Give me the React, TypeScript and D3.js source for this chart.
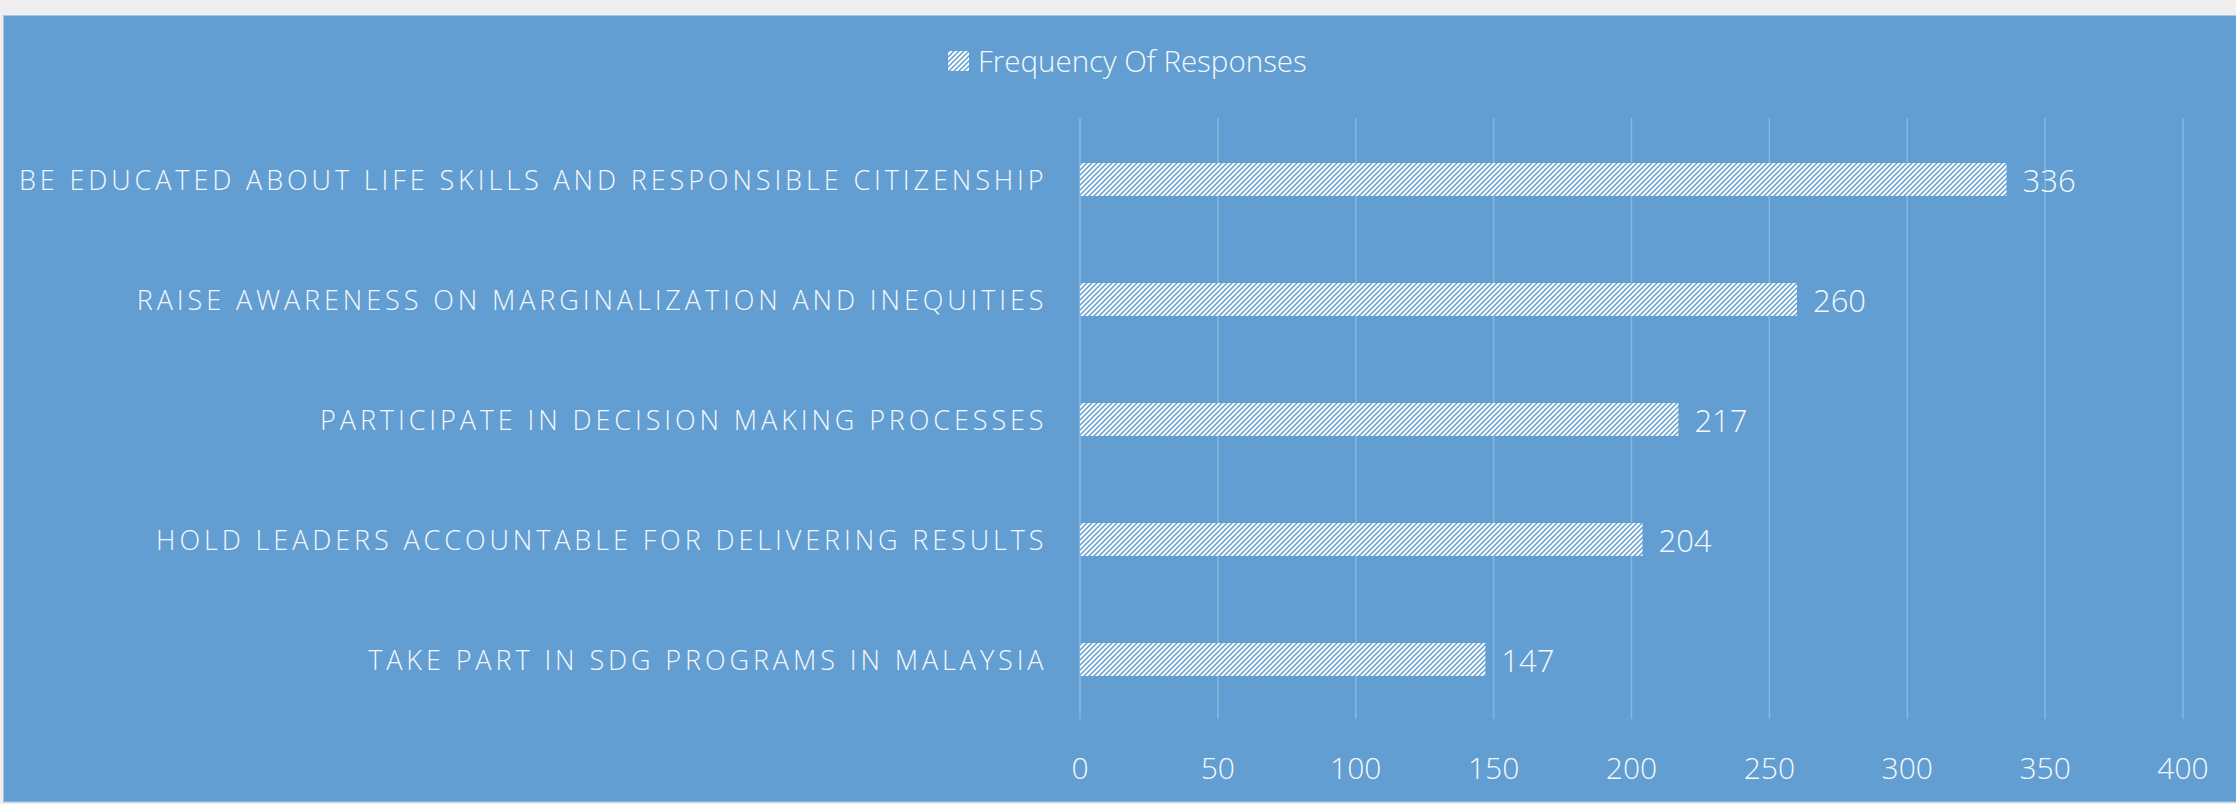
import React from "react";
import * as d3 from "d3";

const categories = [
  "BE EDUCATED ABOUT LIFE SKILLS AND RESPONSIBLE CITIZENSHIP",
  "RAISE AWARENESS ON MARGINALIZATION AND INEQUITIES",
  "PARTICIPATE IN DECISION MAKING PROCESSES",
  "HOLD LEADERS ACCOUNTABLE FOR DELIVERING RESULTS",
  "TAKE PART IN SDG PROGRAMS IN MALAYSIA",
];
const values = [336, 260, 217, 204, 147];
const xTicks = [0, 50, 100, 150, 200, 250, 300, 350, 400];
const seriesName = "Frequency Of Responses";

const W = 2236;
const H = 804;
const BLUE = "#629ed1";
const FONT = "'Open Sans', 'Segoe UI', sans-serif";
const TEXT = "#f4f8fc";

export default function App() {
  const x = d3.scaleLinear().domain([0, 400]).range([1080, 2183]);
  const y = d3
    .scaleBand<string>()
    .domain(categories)
    .range([119.5, 719.5])
    .paddingInner(0.725)
    .paddingOuter(0.3625);

  return (
    <svg
      width={W}
      height={H}
      style={{ position: "absolute", left: 0, top: 0, display: "block" }}
    >
      <defs>
        <pattern id="hatch" patternUnits="userSpaceOnUse" width={5} height={5}>
          <rect width={5} height={5} fill="#ffffff" />
          <path d="M-1,1 L1,-1 M0,5 L5,0 M4,6 L6,4" stroke={BLUE} strokeWidth={1.5} />
        </pattern>
      </defs>
      <rect x={0} y={0} width={W} height={H} fill="#efefef" />
      <rect x={3.5} y={15.5} width={W} height={786.5} fill={BLUE} stroke="#a7c7e6" strokeWidth={1} />

      {/* legend */}
      <rect x={948} y={51} width={21} height={20} fill="url(#hatch)" />
      <text x={978} y={72} fill={TEXT} fontFamily={FONT} fontWeight={300} fontSize={29.5}>
        {seriesName}
      </text>

      {/* gridlines */}
      {xTicks.map((t) => (
        <line
          key={"g" + t}
          x1={x(t)}
          x2={x(t)}
          y1={118}
          y2={719}
          stroke="#ffffff"
          strokeOpacity={0.25}
          strokeWidth={1.5}
        />
      ))}

      {/* bars */}
      {categories.map((c, i) => (
        <rect
          key={"b" + i}
          x={x(0)}
          y={y(c)}
          width={x(values[i]) - x(0)}
          height={y.bandwidth()}
          fill="url(#hatch)"
        />
      ))}

      {/* value labels */}
      {categories.map((c, i) => (
        <text
          key={"v" + i}
          x={x(values[i]) + 16}
          y={(y(c) as number) + y.bandwidth() / 2 + 12}
          fill={TEXT}
          fontFamily={FONT}
          fontWeight={300}
          fontSize={31}
        >
          {values[i]}
        </text>
      ))}

      {/* category labels */}
      {categories.map((c, i) => (
        <text
          key={"c" + i}
          x={1047.5}
          y={(y(c) as number) + y.bandwidth() / 2 + 10}
          textAnchor="end"
          fill={TEXT}
          fontFamily={FONT}
          fontWeight={300}
          fontSize={27}
          letterSpacing={3.9}
        >
          {c}
        </text>
      ))}

      {/* x tick labels */}
      {xTicks.map((t) => (
        <text
          key={"t" + t}
          x={x(t)}
          y={779}
          textAnchor="middle"
          fill={TEXT}
          fontFamily={FONT}
          fontWeight={300}
          fontSize={30}
        >
          {t}
        </text>
      ))}
    </svg>
  );
}
